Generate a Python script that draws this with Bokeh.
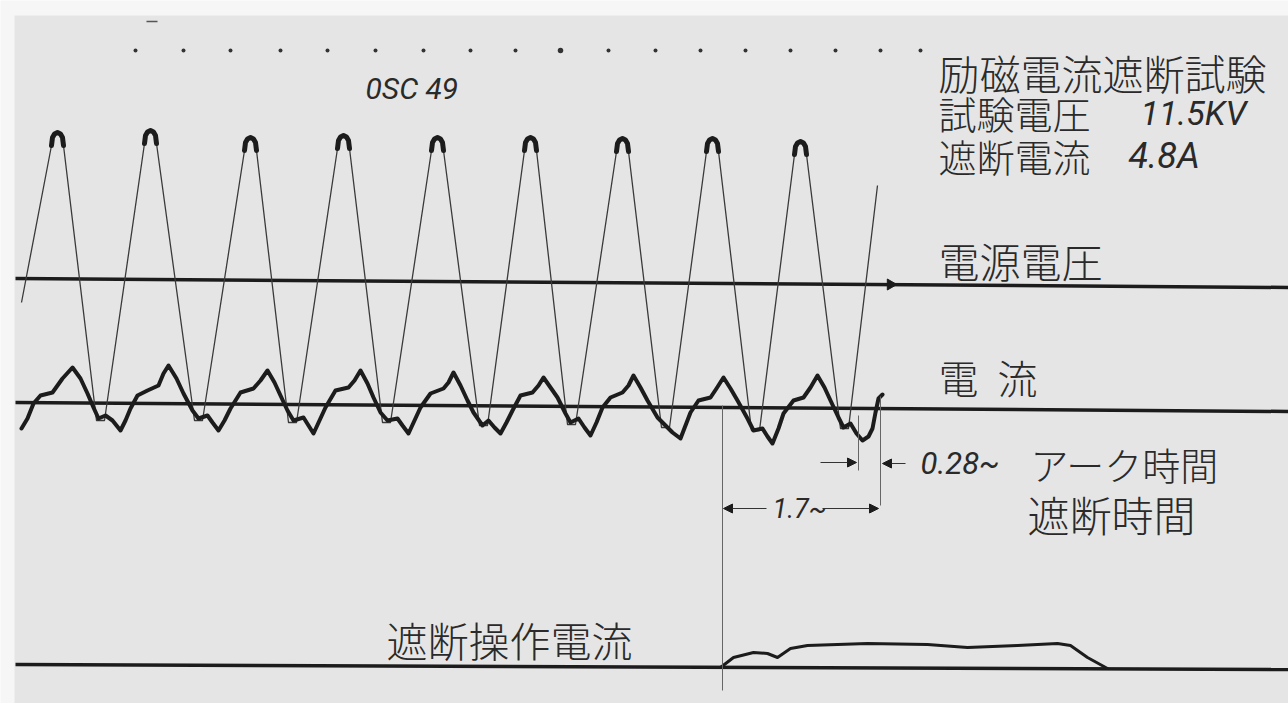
from bokeh.plotting import figure
from bokeh.models import Range1d, Arrow, NormalHead
from bokeh.core.properties import value
from bokeh.embed import file_html
from bokeh.resources import INLINE
import math

# ---------------- data (pixel units) ----------------
# supply voltage trace
volt_start = (21, 302)
volt_peak_x = [57, 150, 250, 343, 437, 530, 622, 712, 800]
volt_peak_y = [132, 130, 137, 135, 137, 137, 138, 138, 141]
volt_trough_x = [100, 198, 292, 386, 483, 571, 665, 755, 844]
volt_trough_y = [420, 420, 422, 422, 425, 424, 427, 430, 428]
volt_end = (877, 185)

# current trace
cur_x = [21, 27, 33, 40, 52, 62, 72, 80, 87, 93, 98, 105, 112, 120, 125, 130, 137, 147, 158, 163, 168,
         176, 183, 192, 198, 207, 212, 218, 224, 230, 240, 253, 260, 267, 274, 280, 287, 293, 303,
         308, 313, 319, 325, 335, 348, 354, 360, 367, 373, 380, 387, 397, 402, 408, 414, 420, 430,
         443, 448, 453, 460, 467, 473, 482, 488, 494, 500, 506, 512, 520, 532, 538, 543, 550, 557,
         565, 570, 578, 584, 590, 596, 602, 610, 622, 628, 633, 640, 647, 657, 665, 672, 680, 685,
         690, 698, 710, 716, 723, 730, 737, 747, 753, 762, 767, 772, 778, 783, 793, 803, 810, 817,
         824, 830, 838, 843, 850, 856, 862, 868, 872, 875, 878, 882]
cur_y = [428, 418, 403, 395, 392, 378, 367, 378, 393, 407, 418, 415, 420, 430, 420, 408, 395, 390, 385, 373, 365,
         378, 393, 410, 418, 415, 422, 430, 420, 408, 392, 388, 380, 370, 382, 395, 410, 420, 417,
         425, 433, 420, 407, 390, 387, 380, 370, 383, 397, 412, 420, 418, 425, 433, 420, 407, 393,
         388, 382, 372, 385, 400, 412, 425, 420, 427, 433, 422, 410, 395, 392, 385, 377, 387, 397,
         413, 422, 418, 427, 435, 422, 407, 397, 392, 385, 375, 387, 400, 417, 425, 432, 438, 425,
         412, 400, 397, 388, 377, 388, 400, 418, 430, 428, 436, 443, 428, 413, 400, 397, 387, 375,
         387, 400, 417, 427, 423, 433, 440, 436, 428, 412, 398, 394]

# breaking operation current trace
op_x = [720, 733, 753, 767, 777, 790, 807, 867, 927, 967, 1017, 1057, 1070, 1087, 1107]
op_y = [667, 657, 652, 653, 657, 648, 645, 643, 644, 647, 645, 643, 645, 657, 668]

# zero lines (left end, right end)
volt_zero_x = [15, 1288]; volt_zero_y = [278, 287]
cur_zero_x = [15, 1288]; cur_zero_y = [402, 411]
op_zero_x = [15, 1288]; op_zero_y = [664, 669]

# timing marks along the top
dot_x = [135, 183, 230, 280, 327, 375, 423, 470, 515, 560, 608, 655, 700, 745, 790, 835, 880, 920]
dot_size = [4, 4, 4, 4, 4, 4, 4, 4, 4, 5.5, 4, 4, 4, 4, 4, 4, 4, 4]

# measurement marker lines
mark_x = [722, 880, 858]
mark_y0 = [405, 396, 415]
mark_y1 = [690, 505, 470]

# ---------------- figure ----------------
p = figure(width=1288, height=703, x_range=Range1d(0, 1288), y_range=Range1d(703, 0),
           output_backend="svg", toolbar_location=None, min_border=0,
           x_axis_location=None, y_axis_location=None)
p.grid.visible = False
p.outline_line_color = None
p.background_fill_color = "#f6f6f6"
p.border_fill_color = "#f6f6f6"

# paper
p.quad(left=14, right=1300, top=15, bottom=710, fill_color="#e5e5e5", line_color=None)

INK = "#1c1c1c"

# zero lines
for xs, ys in [(volt_zero_x, volt_zero_y), (cur_zero_x, cur_zero_y), (op_zero_x, op_zero_y)]:
    p.line(xs, ys, line_width=3.5, line_color=INK)

# voltage trace (rounded caps at the peaks)
cap_dx = [-6, -5, -3, 0, 3, 5, 6]
cap_dy = [13, 5, 1.5, 0, 1.5, 5, 13]
vx, vy = [volt_start[0]], [volt_start[1]]
for px, py, tx, ty in zip(volt_peak_x, volt_peak_y, volt_trough_x, volt_trough_y):
    vx += [px + d for d in cap_dx]
    vy += [py + d for d in cap_dy]
    vx += [tx - 4, tx + 4]
    vy += [ty, ty]
vx.append(volt_end[0]); vy.append(volt_end[1])
p.line(vx, vy, line_width=1.3, line_color="#3a3a3a", line_join="round")
for px, py in zip(volt_peak_x, volt_peak_y):
    p.line([px + d for d in cap_dx], [py + d for d in cap_dy], line_width=5,
           line_color=INK, line_join="round", line_cap="round")

# end-of-voltage blob on the zero line
p.scatter([890], [284], marker="triangle", size=11, angle=-math.pi / 2,
          fill_color=INK, line_color=INK)

# current trace
p.line(cur_x, cur_y, line_width=4, line_color=INK, line_join="round", line_cap="round")

# operation current trace
p.line(op_x, op_y, line_width=3, line_color=INK, line_join="round", line_cap="round")

# timing dots and small top mark
p.scatter(dot_x, [50] * len(dot_x), size=dot_size, fill_color="#333333", line_color=None)
p.line([146, 157], [21, 21], line_width=1.5, line_color="#555555")

# marker lines
p.segment(x0=mark_x, y0=mark_y0, x1=mark_x, y1=mark_y1, line_width=1, line_color="#666666")

# arrows
def arrow(x0, y0, x1, y1):
    p.add_layout(Arrow(end=NormalHead(size=9, fill_color=INK, line_color=INK, line_width=1),
                       x_start=x0, y_start=y0, x_end=x1, y_end=y1,
                       line_width=1.2, line_color="#333333"))

arrow(820, 462, 856, 462)
arrow(905, 463, 882, 463)
arrow(766, 508, 723, 508)
arrow(822, 508, 878, 508)

# ---------------- texts ----------------
JP = value("Noto Sans CJK JP Light, Noto Sans CJK JP")
NARROW = value("Roboto")
TXT = "#2a2a2a"

def jtext(x, y, s, size):
    p.text([x], [y], text=[s], text_font=JP, text_font_size=value(size),
           text_baseline="middle", text_align="left", text_color=TXT)

def ntext(x, y, s, size):
    p.text([x], [y], text=[s], text_font=NARROW, text_font_size=value(size),
           text_font_style="italic", text_baseline="middle", text_align="left", text_color=TXT)

jtext(938, 71, "励磁電流遮断試験", "41px")
jtext(938, 112, "試験電圧", "38px")
ntext(1140, 112, "11.5KV", "34px")
jtext(938, 155, "遮断電流", "38px")
ntext(1128, 155, "4.8A", "36px")
jtext(938, 259, "電源電圧", "41px")
jtext(938, 376, "電", "40px")
jtext(997, 376, "流", "40px")
ntext(920, 463, "0.28~", "31px")
jtext(1030, 463, "アーク時間", "38px")
jtext(1027, 513, "遮断時間", "42px")
jtext(386, 638, "遮断操作電流", "41px")
ntext(365, 88, "0SC 49", "30px")
ntext(772, 508, "1.7~", "27px")

open("out.html", "w").write(file_html(p, INLINE))
